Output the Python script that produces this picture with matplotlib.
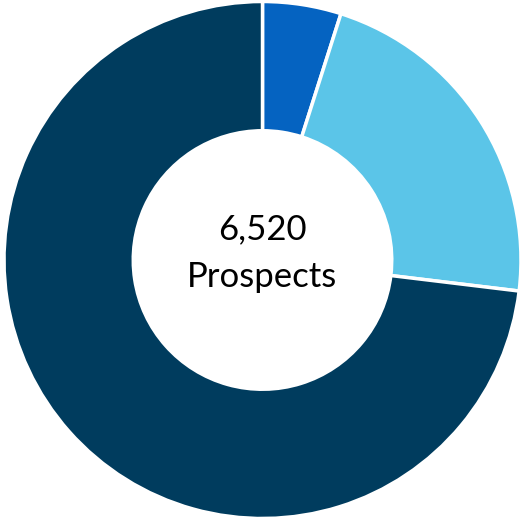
import matplotlib
matplotlib.use('Agg')
import matplotlib.pyplot as plt

# segment values (total 6,520 prospects), clockwise from top
labels = ['Segment A', 'Segment B', 'Segment C']
values = [320, 1435, 4765]
colors = ['#0563C1', '#5BC5E8', '#003C5E']
total_label = '6,520'
sub_label = 'Prospects'

fig = plt.figure(figsize=(5.24, 5.19), dpi=100)
ax = fig.add_axes([0, 0, 1, 1])

ax.pie(values, colors=colors, startangle=90, counterclock=False,
       radius=1.0,
       wedgeprops=dict(width=0.5, edgecolor='white', linewidth=2.5))

ax.text(0, 0.081, total_label, ha='center', va='baseline',
        fontsize=25, family=['Lato', 'DejaVu Sans'], color='black')
ax.text(0, -0.104, sub_label, ha='center', va='baseline',
        fontsize=25, family=['Lato', 'DejaVu Sans'], color='black')

ax.set_aspect('auto')
ax.set_xlim(-262.5 / 258.5, (524 - 262.5) / 258.5)
ax.set_ylim(-259 / 258.5, 260 / 258.5)
ax.axis('off')

fig.savefig('out.png', dpi=100, facecolor='white')
